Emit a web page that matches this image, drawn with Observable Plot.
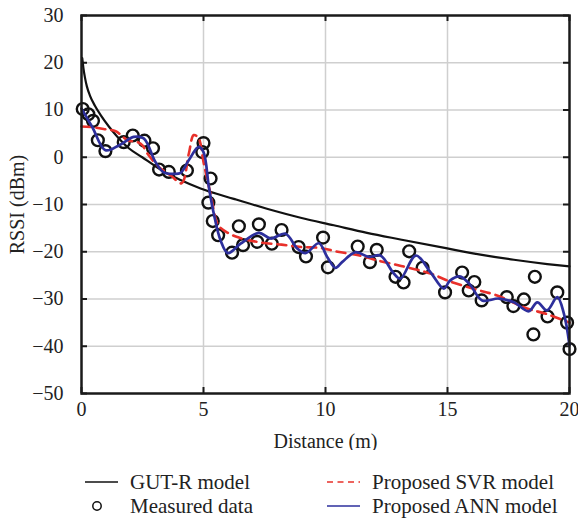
<!DOCTYPE html>
<html><head><meta charset="utf-8">
<script src="https://cdn.jsdelivr.net/npm/d3@7"></script>
<script src="https://cdn.jsdelivr.net/npm/@observablehq/plot@0.6"></script>
<style>
body{margin:0;background:#fff;font-family:"Liberation Serif",serif;}
#wrap{width:578px;}
#chart svg text{font-family:"Liberation Serif",serif;}
#legend{position:relative;height:70px;width:578px;font-size:21px;color:#222;}
.item{position:absolute;display:flex;align-items:center;height:24px;white-space:nowrap;}
.item svg{margin-right:12px;}
</style></head><body><div id="wrap"><div id="chart"></div><div id="legend"></div></div>
<script>
// ---------- data ----------
const xTicks = [0, 5, 10, 15, 20];
const yTicks = [-50, -40, -30, -20, -10, 0, 10, 20, 30];
const seriesNames = ["GUT-R model", "Measured data", "Proposed SVR model", "Proposed ANN model"];

const measuredDist = [0.05,0.28,0.47,0.67,0.98,1.73,2.1,2.58,2.93,3.18,3.58,4.32,4.95,5.0,5.29,5.2,5.38,5.6,6.17,6.45,6.62,7.2,7.27,7.8,8.2,8.9,9.2,9.9,10.1,11.32,11.82,12.1,12.87,13.2,13.43,13.98,14.9,15.6,15.87,16.1,16.4,17.43,17.7,18.13,18.58,18.52,19.1,19.5,19.9,20.0];
const measuredRssi = [10.2,9.1,7.7,3.6,1.3,3.2,4.6,3.5,1.9,-2.6,-3.1,-2.8,1.1,3.0,-4.5,-9.6,-13.5,-16.5,-20.2,-14.6,-18.6,-17.9,-14.2,-18.3,-15.4,-19.0,-21.0,-17.0,-23.3,-18.9,-22.2,-19.6,-25.3,-26.5,-19.9,-23.4,-28.6,-24.4,-28.2,-26.4,-30.3,-29.6,-31.5,-30.1,-25.3,-37.5,-33.7,-28.6,-35.0,-40.6];

const gutDist = [0.03,0.08,0.14,0.22,0.35,0.55,0.8,1.12,1.46,1.94,2.49,3.03,3.44,4.06,4.88,6.24,7.6,8.98,10.34,11.7,13.07,14.99,16.35,17.72,19.09,20];
const gutRssi = [21,18.8,16.9,15.0,13.0,10.9,8.8,6.5,4.4,1.9,0.0,-1.9,-3.2,-4.8,-6.6,-8.8,-10.9,-12.8,-14.4,-16.0,-17.4,-19.3,-20.6,-21.7,-22.6,-23.1];

const svrDist = [0.0,0.4,1.0,1.4,1.9,2.3,2.5,2.7,3.2,3.65,4.1,4.4,4.6,4.8,5.0,5.3,5.6,6.0,6.45,7.3,8.2,9.0,9.8,10.5,11.4,12.1,13.1,14.3,15.0,16.1,17.0,18.26,19.08,20.0];
const svrRssi = [6.5,6.4,5.9,5.5,3.6,3.2,2.5,0.8,-2.2,-3.8,-5.5,0.8,4.7,4.0,-1.0,-8.0,-14.3,-16.0,-17.0,-18.0,-18.5,-19.0,-19.2,-20.0,-20.8,-21.8,-23.0,-24.6,-26.1,-27.9,-29.2,-32.0,-33.2,-35.0];

const annDist = [0.0,0.44,0.98,1.53,2.14,2.55,3.03,3.37,3.78,4.06,4.4,4.8,5.0,5.22,5.42,5.7,6.0,6.52,7.27,7.75,8.36,8.84,9.18,9.73,10.07,10.41,10.68,11.23,11.78,12.25,12.8,13.07,13.7,14.3,14.85,15.1,15.5,15.9,16.42,17.1,17.72,18.33,18.68,19.08,19.5,19.77,20.0];
const annRssi = [10.3,6.4,1.5,2.5,4.3,4.0,-1.0,-3.2,-3.5,-3.3,-0.6,2.2,1.1,-6.3,-11.9,-17.6,-20.3,-18.3,-16.0,-17.2,-16.2,-19.3,-20.3,-18.2,-21.1,-23.4,-22.2,-20.1,-21.1,-20.8,-24.6,-25.7,-20.8,-24.3,-27.8,-26.1,-25.2,-26.8,-30.3,-29.9,-30.7,-32.6,-30.7,-32.4,-29.6,-33.1,-39.8];

const colors = {gut: "#111", svr: "#e8302a", ann: "#2d2f9c", meas: "#111"};

// ---------- layout ----------
const W = 578, H = 450, mL = 81, mR = 9, mT = 15, mB = 57, tickLen = 6;
const innerW = W - mL - mR, innerH = H - mT - mB;

// ---------- tables ----------
const zip = (xs, ys) => xs.map((x, i) => ({x, y: ys[i]}));
const measured = zip(measuredDist, measuredRssi);
const gut = zip(gutDist, gutRssi);
const svr = zip(svrDist, svrRssi);
const ann = zip(annDist, annRssi);

const fmtY = d => d < 0 ? "\u2212" + Math.abs(d) : String(d);
const serif = "Liberation Serif";

const chart = Plot.plot({
  width: W,
  height: H,
  marginLeft: mL,
  marginRight: mR,
  marginTop: mT,
  marginBottom: mB,
  style: {fontFamily: "'Liberation Serif', serif", fontSize: "20px", color: "#222", background: "#fff"},
  x: {domain: [0, 20], ticks: xTicks},
  y: {domain: [-50, 30], ticks: yTicks},
  marks: [
    Plot.gridX(xTicks.slice(1, -1), {stroke: "#cfcfcf", strokeOpacity: 1, strokeWidth: 1.5}),
    Plot.gridY(yTicks.slice(1, -1), {stroke: "#cfcfcf", strokeOpacity: 1, strokeWidth: 1.5}),
    Plot.axisX(xTicks, {anchor: "bottom", tickSize: 0, tickPadding: 8, label: "Distance (m)", labelAnchor: "center", labelArrow: "none", labelOffset: 54, fontSize: 20, fontFamily: serif}),
    Plot.axisY(yTicks, {anchor: "left", tickSize: 0, tickPadding: 18, tickFormat: fmtY, label: "RSSI (dBm)", labelAnchor: "center", labelArrow: "none", labelOffset: 72, fontSize: 20, fontFamily: serif}),
    // inward tick marks on all four sides (MATLAB style)
    Plot.tickX(xTicks, {x: d => d, stroke: "#1a1a1a", strokeWidth: 2, insetTop: innerH - tickLen}),
    Plot.tickX(xTicks, {x: d => d, stroke: "#1a1a1a", strokeWidth: 2, insetBottom: innerH - tickLen}),
    Plot.tickY(yTicks, {y: d => d, stroke: "#1a1a1a", strokeWidth: 2, insetRight: innerW - tickLen}),
    Plot.tickY(yTicks, {y: d => d, stroke: "#1a1a1a", strokeWidth: 2, insetLeft: innerW - tickLen}),
    Plot.dot(measured, {x: "x", y: "y", r: 5.9, stroke: colors.meas, strokeWidth: 2.4, fill: "none"}),
    Plot.line(gut, {x: "x", y: "y", stroke: colors.gut, strokeWidth: 2.2, curve: "monotone-x"}),
    Plot.line(svr, {x: "x", y: "y", stroke: colors.svr, strokeWidth: 2.6, strokeDasharray: "9,6", curve: "catmull-rom"}),
    Plot.line(ann, {x: "x", y: "y", stroke: colors.ann, strokeWidth: 2.7, curve: "catmull-rom"}),
    Plot.frame({stroke: "#1a1a1a", strokeWidth: 2.5})
  ]
});
document.getElementById("chart").appendChild(chart);

// ---------- legend ----------
const legend = document.getElementById("legend");
const legendItems = [
  {name: seriesNames[0], sym: `<line x1="0" y1="12" x2="33" y2="12" stroke="${colors.gut}" stroke-width="1.6"/>`, left: 85, top: 20},
  {name: seriesNames[1], sym: `<circle cx="12" cy="12" r="4.2" fill="none" stroke="${colors.meas}" stroke-width="1.5"/>`, left: 85, top: 44},
  {name: seriesNames[2], sym: `<line x1="0" y1="12" x2="33" y2="12" stroke="${colors.svr}" stroke-width="1.6" stroke-dasharray="6,4.5"/>`, left: 327, top: 20},
  {name: seriesNames[3], sym: `<line x1="0" y1="12" x2="33" y2="12" stroke="${colors.ann}" stroke-width="1.6"/>`, left: 327, top: 44}
];
for (const it of legendItems) {
  const d = document.createElement("div");
  d.className = "item";
  d.style.left = it.left + "px";
  d.style.top = it.top + "px";
  d.innerHTML = `<svg width="33" height="24">${it.sym}</svg><span>${it.name}</span>`;
  legend.appendChild(d);
}
</script></body></html>
